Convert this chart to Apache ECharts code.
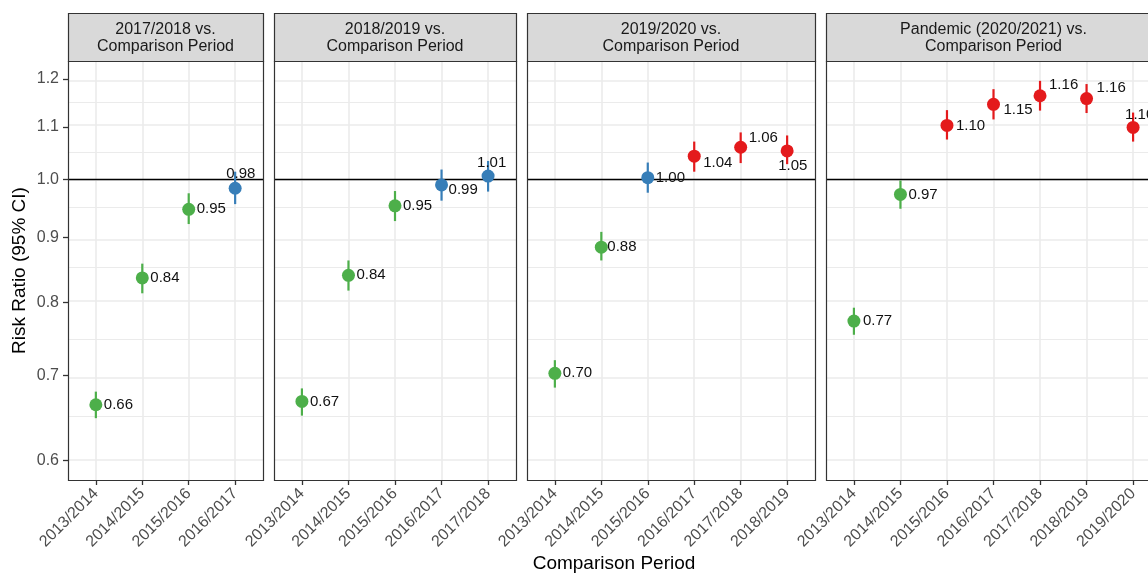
<!DOCTYPE html>
<html><head><meta charset="utf-8">
<script src="https://cdn.jsdelivr.net/npm/echarts@6/dist/echarts.min.js"></script>
<style>html,body{margin:0;padding:0;background:#fff}#c{width:1148px;height:574px}</style>
</head><body><div id="c"></div>
<script>
// ---------- data ----------
const stripTitles = [
  '2017/2018 vs.\nComparison Period',
  '2018/2019 vs.\nComparison Period',
  '2019/2020 vs.\nComparison Period',
  'Pandemic (2020/2021) vs.\nComparison Period'
];
const cats1 = ['2013/2014','2014/2015','2015/2016','2016/2017'];
const cats2 = ['2013/2014','2014/2015','2015/2016','2016/2017','2017/2018'];
const cats3 = ['2013/2014','2014/2015','2015/2016','2016/2017','2017/2018','2018/2019'];
const cats4 = ['2013/2014','2014/2015','2015/2016','2016/2017','2017/2018','2018/2019','2019/2020'];

const rr1 = [0.664, 0.836, 0.947, 0.984];
const lo1 = [0.648, 0.813, 0.922, 0.956];
const hi1 = [0.680, 0.858, 0.975, 1.014];

const rr2 = [0.668, 0.840, 0.953, 0.990, 1.006];
const lo2 = [0.651, 0.817, 0.927, 0.962, 0.978];
const hi2 = [0.684, 0.863, 0.979, 1.018, 1.034];

const rr3 = [0.703, 0.884, 1.003, 1.043, 1.060, 1.053];
const lo3 = [0.685, 0.863, 0.976, 1.014, 1.030, 1.028];
const hi3 = [0.720, 0.909, 1.031, 1.071, 1.089, 1.083];

const rr4 = [0.773, 0.973, 1.103, 1.146, 1.164, 1.158, 1.099];
const lo4 = [0.754, 0.948, 1.075, 1.115, 1.133, 1.128, 1.071];
const hi4 = [0.792, 0.998, 1.134, 1.178, 1.196, 1.189, 1.129];

const yTicks = [0.6, 0.7, 0.8, 0.9, 1.0, 1.1, 1.2];
const refValue = 1.0;

// ---------- layout (not data) ----------
const labelOffsets = [
  [[8,0],[8,0],[8,0],[-9,-14]],
  [[8,0],[8,0],[8,0],[7,5],[-11,-13]],
  [[8,0],[6,0],[8,0],[9,7],[8,-9],[-9,15]],
  [[9,0],[8,0],[9,0],[10,6],[9,-11],[10,-11],[-8,-13]]
];
const panelLeft = [68, 274, 527, 826];
const panelWidth = [195, 242, 288, 335];
const panelTop = 61, panelHeight = 419;
const stripTop = 13, stripHeight = 48;
const yMinLog = -0.5462, yMaxLog = 0.2150;
const FONT = 'Liberation Sans, Arial, sans-serif';

const COL_GREEN = '#4DAF4A', COL_BLUE = '#377EB8', COL_RED = '#E41A1C';

const panels = [
  {cats: cats1, rr: rr1, lo: lo1, hi: hi1},
  {cats: cats2, rr: rr2, lo: lo2, hi: hi2},
  {cats: cats3, rr: rr3, lo: lo3, hi: hi3},
  {cats: cats4, rr: rr4, lo: lo4, hi: hi4}
];

function colorFor(lo, hi) {
  if (hi < 1) return COL_GREEN;
  if (lo > 1) return COL_RED;
  return COL_BLUE;
}

// minor gridlines: midpoints in log space
const majorLog = yTicks.map(v => Math.log(v));
const minorLog = [];
for (let i = 0; i < majorLog.length - 1; i++) minorLog.push((majorLog[i] + majorLog[i+1]) / 2);

const grids = [], xAxes = [], yAxes = [], series = [], graphics = [];

panels.forEach((p, k) => {
  const n = p.cats.length;
  grids.push({left: panelLeft[k], top: panelTop, width: panelWidth[k], height: panelHeight,
    containLabel: false, outerBoundsMode: 'none', show: false});
  xAxes.push({
    type: 'value', gridIndex: k, min: -0.6, max: n - 0.4, position: 'bottom',
    axisLine: {show: false, onZero: false}, splitLine: {show: false},
    axisTick: {show: true, customValues: p.cats.map((c, i) => i), length: 5, lineStyle: {color: '#333333', width: 1.3}},
    axisLabel: {show: true, customValues: p.cats.map((c, i) => i), rotate: 45, margin: 11,
      formatter: v => p.cats[Math.round(v)], color: '#4D4D4D', fontSize: 16, fontFamily: FONT}
  });
  yAxes.push({
    type: 'value', gridIndex: k, min: yMinLog, max: yMaxLog, position: 'left',
    axisLine: {show: false, onZero: false}, splitLine: {show: false},
    axisTick: {show: k === 0, customValues: majorLog, length: 5, lineStyle: {color: '#333333', width: 1.3}},
    axisLabel: {show: k === 0, customValues: majorLog, margin: 9,
      formatter: v => Math.exp(v).toFixed(1), color: '#4D4D4D', fontSize: 16, fontFamily: FONT}
  });

  // gridlines
  const gl = [];
  minorLog.forEach(v => gl.push({yAxis: v, lineStyle: {width: 1, color: '#EBEBEB'}}));
  majorLog.forEach(v => gl.push({yAxis: v, lineStyle: {width: 1.6, color: '#EBEBEB'}}));
  p.cats.forEach((c, i) => gl.push({xAxis: i, lineStyle: {width: 1.6, color: '#EBEBEB'}}));
  series.push({
    type: 'scatter', xAxisIndex: k, yAxisIndex: k, data: [], silent: true, z: 1,
    markLine: {silent: true, z: 1, symbol: ['none', 'none'], label: {show: false}, animation: false,
      lineStyle: {type: 'solid'}, data: gl}
  });
  // reference line at 1
  series.push({
    type: 'scatter', xAxisIndex: k, yAxisIndex: k, data: [], silent: true, z: 2,
    markLine: {silent: true, z: 2, symbol: ['none', 'none'], label: {show: false}, animation: false,
      lineStyle: {type: 'solid', color: '#000000', width: 1.4}, data: [{yAxis: Math.log(refValue)}]}
  });
  // error bars
  const cols = p.rr.map((v, i) => colorFor(p.lo[i], p.hi[i]));
  series.push({
    type: 'custom', xAxisIndex: k, yAxisIndex: k, z: 3, silent: true,
    data: p.rr.map((v, i) => [i, Math.log(p.lo[i]), Math.log(p.hi[i])]),
    encode: {x: 0, y: [1, 2]},
    renderItem: (params, api) => {
      const a = api.coord([api.value(0), api.value(1)]);
      const b = api.coord([api.value(0), api.value(2)]);
      return {type: 'line', shape: {x1: a[0], y1: a[1], x2: b[0], y2: b[1]},
        style: {stroke: cols[params.dataIndex], lineWidth: 2.2}};
    }
  });
  // points + labels
  series.push({
    type: 'scatter', xAxisIndex: k, yAxisIndex: k, z: 4, symbolSize: 13, silent: true,
    data: p.rr.map((v, i) => ({
      value: [i, Math.log(v)],
      itemStyle: {color: cols[i], opacity: 1},
      label: {show: true, position: 'inside', align: 'left', verticalAlign: 'middle',
        offset: labelOffsets[k][i], formatter: v.toFixed(2), color: '#111111',
        fontSize: 15, fontFamily: FONT, textBorderWidth: 0}
    }))
  });

  // panel border + strip
  graphics.push({type: 'rect', z: 100, silent: true,
    shape: {x: panelLeft[k] + 0.5, y: panelTop + 0.5, width: panelWidth[k], height: panelHeight},
    style: {fill: 'none', stroke: '#333333', lineWidth: 1.2}});
  graphics.push({type: 'rect', z: 100, silent: true,
    shape: {x: panelLeft[k] + 0.5, y: stripTop + 0.5, width: panelWidth[k], height: stripHeight},
    style: {fill: '#D9D9D9', stroke: '#333333', lineWidth: 1.2}});
  graphics.push({type: 'text', z: 101, silent: true,
    x: panelLeft[k] + panelWidth[k] / 2, y: stripTop + stripHeight / 2 + 1,
    style: {text: stripTitles[k], align: 'center', verticalAlign: 'middle', fill: '#1A1A1A',
      fontSize: 16, lineHeight: 17, fontFamily: FONT}});
});

graphics.push({type: 'text', z: 101, silent: true, x: 20, y: panelTop + panelHeight / 2, rotation: Math.PI / 2,
  style: {text: 'Risk Ratio (95% CI)', align: 'center', verticalAlign: 'middle', fill: '#000000',
    fontSize: 19, fontFamily: FONT}});
graphics.push({type: 'text', z: 101, silent: true, x: 614, y: 564,
  style: {text: 'Comparison Period', align: 'center', verticalAlign: 'middle', fill: '#000000',
    fontSize: 19, fontFamily: FONT}});

const chart = echarts.init(document.getElementById('c'), null, {renderer: 'canvas'});
chart.setOption({
  animation: false,
  backgroundColor: '#ffffff',
  grid: grids, xAxis: xAxes, yAxis: yAxes, series: series, graphic: graphics
});
</script></body></html>
